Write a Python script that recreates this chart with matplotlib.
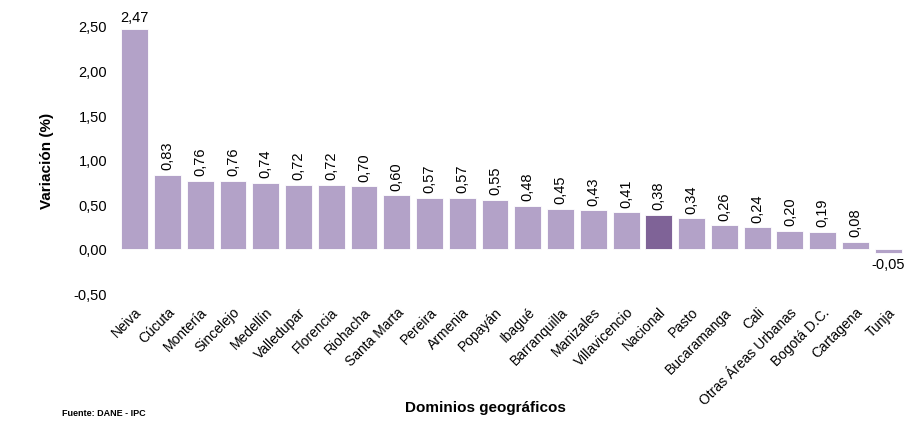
import matplotlib
matplotlib.use("Agg")
import matplotlib.pyplot as plt

plt.rcParams["font.family"] = ["Liberation Sans", "DejaVu Sans"]

# Variación mensual por dominio geográfico
dominios = [
    "Neiva", "Cúcuta", "Montería", "Sincelejo", "Medellín", "Valledupar",
    "Florencia", "Riohacha", "Santa Marta", "Pereira", "Armenia", "Popayán",
    "Ibagué", "Barranquilla", "Manizales", "Villavicencio", "Nacional",
    "Pasto", "Bucaramanga", "Cali", "Otras Áreas Urbanas", "Bogotá D.C.",
    "Cartagena", "Tunja",
]
variacion = [
    2.47, 0.83, 0.76, 0.76, 0.74, 0.72, 0.72, 0.70, 0.60, 0.57, 0.57, 0.55,
    0.48, 0.45, 0.43, 0.41, 0.38, 0.34, 0.26, 0.24, 0.20, 0.19, 0.08, -0.05,
]
yticks = [-0.5, 0.0, 0.5, 1.0, 1.5, 2.0, 2.5]

BAR = "#b3a2c8"
NAC = "#7f6397"


def fmt(v):
    return f"{v:.2f}".replace(".", ",")


fig = plt.figure(figsize=(9.24, 4.27), dpi=100)
ax = fig.add_axes([0.128, 0.311, 0.851, 0.626])

colors = [NAC if d == "Nacional" else BAR for d in dominios]
x = list(range(len(dominios)))
ax.bar(x, variacion, width=0.82, color=colors, edgecolor="white", linewidth=0.6)

for xi, v in zip(x, variacion):
    if xi == 0:
        ax.annotate(fmt(v), (xi, v), xytext=(0, 3), textcoords="offset points",
                    ha="center", va="bottom", fontsize=10.5)
    elif v < 0:
        ax.annotate(fmt(v), (xi, v), xytext=(0, -3), textcoords="offset points",
                    ha="center", va="top", fontsize=10.5)
    else:
        ax.annotate(fmt(v), (xi, v), xytext=(0, 4), textcoords="offset points",
                    ha="center", va="bottom", rotation=90, fontsize=10.5)

ax.set_xlim(-0.5, len(dominios) - 0.5)
ax.set_ylim(-0.5, 2.5)
ax.set_yticks(yticks)
ax.set_yticklabels([fmt(t) for t in yticks], fontsize=10.5)
ax.set_xticks(x)
ax.set_xticklabels(dominios, rotation=45, ha="right", rotation_mode="anchor",
                   fontsize=10)
ax.tick_params(axis="both", length=0)
ax.tick_params(axis="x", pad=8)
ax.tick_params(axis="y", pad=8)
for s in ax.spines.values():
    s.set_visible(False)

ax.set_ylabel("Variación (%)", fontsize=11, fontweight="bold", labelpad=14)
fig.text(0.525, 0.045, "Dominios geográficos", ha="center", va="center",
         fontsize=11, fontweight="bold")
fig.text(0.067, 0.032, "Fuente: DANE - IPC", ha="left", va="center",
         fontsize=6.5, fontweight="bold")

fig.savefig("out.png", dpi=100)
